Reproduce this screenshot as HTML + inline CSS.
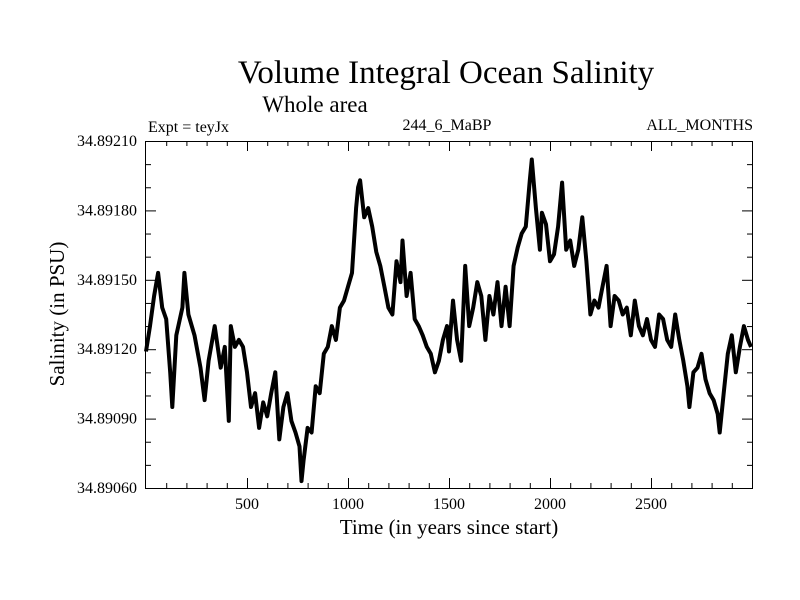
<!DOCTYPE html>
<html><head><meta charset="utf-8"><style>
body{margin:0;background:#fff}
svg{display:block;font-family:"Liberation Serif",serif}
</style></head><body>
<svg width="800" height="600">
<text x="446" y="83" font-size="33" text-anchor="middle">Volume Integral Ocean Salinity</text>
<text x="315" y="112" font-size="23" text-anchor="middle">Whole area</text>
<text x="148" y="132" font-size="16">Expt = teyJx</text>
<text x="447" y="130" font-size="16" text-anchor="middle">244_6_MaBP</text>
<text x="753" y="130" font-size="16" text-anchor="end">ALL_MONTHS</text>
<text transform="translate(64,314) rotate(-90)" font-size="21" text-anchor="middle">Salinity (in PSU)</text>
<text x="449" y="534" font-size="21" text-anchor="middle">Time (in years since start)</text>
<g id="axes"></g>
<path id="series" fill="none" stroke="#000" stroke-width="4" stroke-linejoin="round"/>
<rect x="145.5" y="141.5" width="607" height="347" fill="none" stroke="#000" stroke-width="1"/>
</svg>
<script>
const years=[0,20,40,60,80,100,120,130,150,180,190,210,240,270,290,310,340,370,390,410,420,440,460,480,500,520,540,560,580,600,620,640,660,680,700,720,740,760,770,780,800,820,840,860,880,900,920,940,960,980,1000,1020,1040,1050,1060,1080,1100,1120,1140,1160,1180,1200,1220,1240,1260,1270,1290,1310,1330,1350,1370,1390,1410,1430,1450,1470,1490,1500,1520,1540,1560,1580,1600,1620,1640,1660,1680,1700,1720,1740,1760,1780,1800,1820,1840,1860,1880,1900,1910,1930,1950,1960,1980,2000,2020,2040,2060,2080,2100,2120,2140,2160,2180,2200,2220,2240,2260,2280,2300,2320,2340,2360,2380,2400,2420,2440,2460,2480,2500,2520,2540,2560,2580,2600,2620,2640,2660,2680,2690,2710,2730,2750,2770,2790,2810,2830,2840,2860,2880,2900,2920,2940,2960,2980,2995];
const salinityOffset=[119,130,143,153,138,133,110,95,126,138,153,135,126,112,98,115,130,112,121,89,130,121,124,121,110,95,101,86,97,91,101,110,81,95,101,89,84,78,63,72,86,84,104,101,118,121,130,124,138,141,147,153,181,190,193,177,181,173,162,156,147,138,135,158,149,167,143,153,133,130,126,121,118,110,115,124,130,119,141,124,115,156,130,138,149,143,124,143,135,149,130,147,130,156,164,170,173,193,202,181,163,179,174,158,161,173,192,163,167,156,163,177,158,135,141,138,147,156,130,143,141,135,138,126,141,130,126,133,124,121,135,133,124,121,135,124,115,104,95,110,112,118,107,101,98,92,84,101,118,126,110,121,130,124,121];
const yTickLabels=["34.89060","34.89090","34.89120","34.89150","34.89180","34.89210"];
const xTickLabels=["500","1000","1500","2000","2500"];
const X0=146,X1=752,Y0=488,Y1=141,xMin=0,xMax=3000,yMin=34.8906,yMax=34.8921;
const sx=v=>X0+(v-xMin)/(xMax-xMin)*(X1-X0);
const sy=v=>Y0-(v-yMin)/(yMax-yMin)*(Y0-Y1);
const NS="http://www.w3.org/2000/svg";
const g=document.getElementById('axes');
function line(x1,y1,x2,y2,name){const l=document.createElementNS(NS,'line');
l.setAttribute('x1',x1);l.setAttribute('y1',y1);l.setAttribute('x2',x2);l.setAttribute('y2',y2);l.setAttribute('stroke','#000');


g.appendChild(l);}
function text(x,y,s,anchor,name){const t=document.createElementNS(NS,'text');
t.setAttribute('x',x);t.setAttribute('y',y);t.setAttribute('font-size','16');t.setAttribute('text-anchor',anchor);t.textContent=s;


g.appendChild(t);}
for(let i=0;i<=15;i++){const v=yMin+i*0.0001,y=sy(v)+0.5,major=i%3===0,len=major?10:5;
line(X0,y,X0+len,y,'y-tick');line(X1-len,y,X1,y,'y-tick-right');}
yTickLabels.forEach(s=>text(137,sy(parseFloat(s))+5,s,'end','y-tick-label'));
for(let v=100;v<3000;v+=100){const x=sx(v)+0.5,major=v%500===0,len=major?10:5;
line(x,Y0,x,Y0-len,'x-tick');line(x,Y1,x,Y1+len,'x-tick-top');}
xTickLabels.forEach(s=>text(sx(+s),509,s,'middle','x-tick-label'));
let d='';years.forEach((yr,i)=>{d+=(i?'L':'M')+sx(yr).toFixed(1)+','+sy(34.89+salinityOffset[i]*1e-5).toFixed(1);});
document.getElementById('series').setAttribute('d',d);
</script>
</body></html>
